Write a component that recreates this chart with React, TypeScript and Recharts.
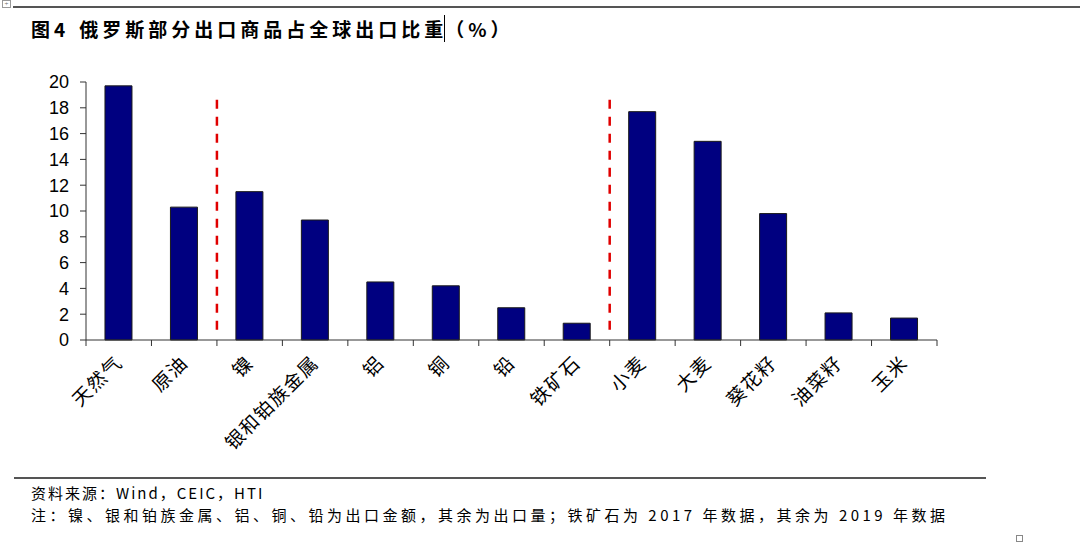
import React from 'react';
import { BarChart, Bar, XAxis, YAxis, ReferenceLine } from 'recharts';

const categories = ['天然气', '原油', '镍', '银和铂族金属', '铝', '铜', '铅', '铁矿石', '小麦', '大麦', '葵花籽', '油菜籽', '玉米'];
const shares = [19.7, 10.3, 11.5, 9.3, 4.5, 4.2, 2.5, 1.3, 17.7, 15.4, 9.8, 2.1, 1.7];
const yTicks = [0, 2, 4, 6, 8, 10, 12, 14, 16, 18, 20];
// dashed separators drawn at the left edge of these categories
const dividerCategories = ['镍', '小麦'];

const data = categories.map((name, i) => ({ name, value: shares[i] }));

const CHART_W = 1080;
const CHART_H = 488;
const M_LEFT = 36;
const Y_W = 50;
const M_RIGHT = 143;
const PLOT_W = CHART_W - M_LEFT - Y_W - M_RIGHT;
const HALF_BAND = PLOT_W / categories.length / 2;

const cjk = '"Noto Sans CJK SC", sans-serif';

const XTick = (props: any) => {
  const { x, y, payload, index } = props;
  const lx = x + 5;
  const ly = y + 24;
  return (
    <g>
      <line x1={x - HALF_BAND} x2={x - HALF_BAND} y1={y} y2={y + 6} stroke="#333" strokeWidth={1} />
      {index === categories.length - 1 && (
        <line x1={x + HALF_BAND} x2={x + HALF_BAND} y1={y} y2={y + 6} stroke="#333" strokeWidth={1} />
      )}
      <text
        x={lx}
        y={ly}
        textAnchor="end"
        fontSize={19}
        letterSpacing={1.5}
        fontFamily={cjk}
        fill="#000"
        transform={`rotate(-45, ${lx}, ${ly})`}
      >
        {payload.value}
      </text>
    </g>
  );
};

export default function App() {
  return (
    <div style={{ position: 'absolute', left: 0, top: 0, width: 1080, height: 548, background: '#fff', overflow: 'hidden' }}>
      <div style={{ position: 'absolute', left: 2, top: 0, width: 9, height: 8, border: '1px solid #999', boxSizing: 'border-box', fontSize: 7, lineHeight: '6px', textAlign: 'center', color: '#666' }}>+</div>
      <div style={{ position: 'absolute', left: 13, top: 6, width: 1067, height: 2, background: '#555' }} />
      <div
        style={{
          position: 'absolute',
          left: 31,
          top: 15,
          fontFamily: cjk,
          fontSize: 19,
          fontWeight: 700,
          letterSpacing: 4,
          color: '#000',
          whiteSpace: 'nowrap',
          lineHeight: '28px',
        }}
      >
        图4<span style={{ display: 'inline-block', width: 10 }} />俄罗斯部分出口商品占全球出口比重<span style={{ borderLeft: '1px solid #000', marginLeft: -3 }}>（%）</span>
      </div>
      <div style={{ position: 'absolute', left: 0, top: 0 }}>
        <BarChart
          width={CHART_W}
          height={CHART_H}
          data={data}
          margin={{ top: 82, right: M_RIGHT, bottom: 30, left: M_LEFT }}
          barCategoryGap="29%"
        >
          <XAxis
            dataKey="name"
            interval={0}
            tickLine={false}
            tickSize={0}
            tickMargin={0}
            axisLine={{ stroke: '#333', strokeWidth: 1 }}
            tick={<XTick />}
            height={118}
          />
          <YAxis
            width={Y_W}
            domain={[0, 20]}
            ticks={yTicks}
            interval={0}
            tickSize={6}
            tickMargin={11}
            axisLine={{ stroke: '#333', strokeWidth: 1 }}
            tickLine={{ stroke: '#333', strokeWidth: 1 }}
            tick={{ fontSize: 18, fill: '#000', fontFamily: 'Liberation Sans, Arial, sans-serif' }}
          />
          <Bar
            dataKey="value"
            fill="#000080"
            stroke="#1a1a1a"
            strokeWidth={1}
            isAnimationActive={false}
          />
          {dividerCategories.map((c) => (
            <ReferenceLine
              key={c}
              position="start"
              segment={[{ x: c, y: 0.8 }, { x: c, y: 19 }]}
              stroke="#e00000"
              strokeWidth={2.5}
              strokeDasharray="9 8"
            />
          ))}
        </BarChart>
      </div>
      <div style={{ position: 'absolute', left: 14, top: 477, width: 972, height: 2, background: '#555' }} />
      <div style={{ position: 'absolute', left: 31, top: 484, fontFamily: cjk, fontSize: 15, letterSpacing: 2, color: '#000', whiteSpace: 'nowrap', lineHeight: '18px' }}>
        资料来源：Wind，CEIC，HTI
      </div>
      <div style={{ position: 'absolute', left: 31, top: 506, fontFamily: cjk, fontSize: 15, letterSpacing: 3.5, color: '#000', whiteSpace: 'nowrap', lineHeight: '18px' }}>
        注：镍、银和铂族金属、铝、铜、铅为出口金额，其余为出口量；铁矿石为 2017 年数据，其余为 2019 年数据
      </div>
      <div style={{ position: 'absolute', left: 1016, top: 535, width: 7, height: 7, border: '1px solid #888', boxSizing: 'border-box' }} />
    </div>
  );
}
